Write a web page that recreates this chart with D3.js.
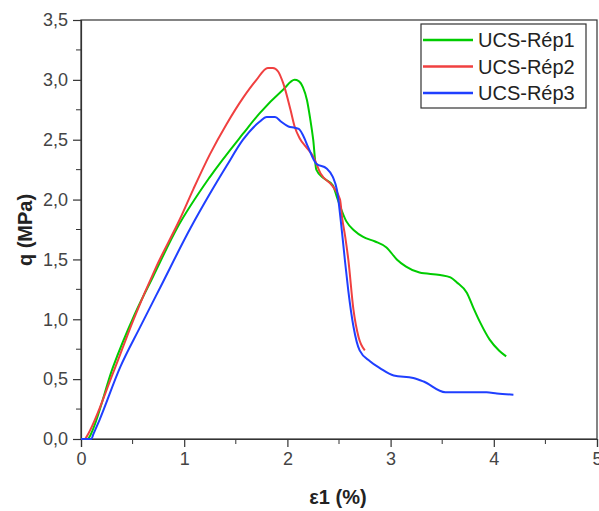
<!DOCTYPE html>
<html><head><meta charset="utf-8">
<script src="https://cdn.jsdelivr.net/npm/d3@7"></script>
<style>body{margin:0;background:#fff}svg{display:block}</style>
</head><body><svg id="c" width="599" height="511"></svg>
<script>
const seriesNames = ["UCS-Rép1","UCS-Rép2","UCS-Rép3"];
const seriesColors = ["#00cc00","#f04040","#1f3fff"];
const xTicks = [0,1,2,3,4,5];
const yTicks = [0,0.5,1,1.5,2,2.5,3,3.5];
const rep1 = [[0.07,0],[0.09,0.03],[0.31,0.60],[0.52,1.04],[0.70,1.36],[0.93,1.76],[1.25,2.19],[1.57,2.55],[1.73,2.72],[1.96,2.92],[2.07,3.0],[2.11,2.99],[2.15,2.94],[2.19,2.83],[2.22,2.68],[2.25,2.50],[2.28,2.25],[2.35,2.18],[2.44,2.12],[2.48,2.02],[2.57,1.82],[2.65,1.74],[2.73,1.69],[2.85,1.65],[2.96,1.60],[3.06,1.50],[3.15,1.44],[3.28,1.39],[3.48,1.37],[3.58,1.35],[3.64,1.31],[3.74,1.22],[3.80,1.10],[3.87,0.97],[3.96,0.83],[4.05,0.74],[4.12,0.69]];
const rep2 = [[0.04,0],[0.055,0.02],[0.31,0.55],[0.51,1.00],[0.73,1.44],[0.96,1.84],[1.09,2.09],[1.25,2.38],[1.41,2.63],[1.57,2.85],[1.70,3.0],[1.81,3.10],[1.86,3.10],[1.91,3.07],[1.96,2.97],[2.03,2.75],[2.07,2.61],[2.12,2.51],[2.18,2.44],[2.25,2.36],[2.32,2.22],[2.44,2.11],[2.51,2.0],[2.53,1.85],[2.56,1.69],[2.59,1.50],[2.64,1.08],[2.69,0.85],[2.75,0.74]];
const rep3 = [[0,0],[0.10,0],[0.12,0.04],[0.18,0.16],[0.38,0.60],[0.57,0.93],[0.77,1.27],[1.06,1.76],[1.25,2.05],[1.41,2.28],[1.57,2.50],[1.73,2.65],[1.80,2.69],[1.88,2.69],[1.94,2.65],[2.01,2.61],[2.07,2.60],[2.11,2.59],[2.15,2.54],[2.20,2.44],[2.28,2.30],[2.38,2.26],[2.44,2.19],[2.48,2.08],[2.53,1.72],[2.56,1.47],[2.59,1.24],[2.64,0.94],[2.70,0.74],[2.80,0.65],[2.90,0.59],[3.03,0.53],[3.22,0.51],[3.32,0.48],[3.53,0.39],[3.93,0.39],[4.03,0.38],[4.19,0.37]];
const seriesData = [rep1, rep2, rep3];

const svg = d3.select("#c");
const L=81,R=597,T=20,B=439;
const x = d3.scaleLinear().domain([0,5]).range([L,R]);
const y = d3.scaleLinear().domain([0,3.5]).range([B,T]);
const axCol="#333", txtCol="#444";

svg.append("rect").attr("x",L).attr("y",T).attr("width",R-L).attr("height",B-T)
  .attr("fill","none").attr("stroke",axCol).attr("stroke-width",1.2);

const minorX = d3.range(0.5,5,1), minorY = d3.range(0.25,3.5,0.5);
svg.append("g").selectAll("line").data(minorX).join("line")
  .attr("x1",d=>x(d)).attr("x2",d=>x(d)).attr("y1",B).attr("y2",B+5).attr("stroke",axCol);
svg.append("g").selectAll("line").data(minorY).join("line")
  .attr("y1",d=>y(d)).attr("y2",d=>y(d)).attr("x1",L).attr("x2",L-5).attr("stroke",axCol);

const xa = svg.append("g").attr("transform",`translate(0,${B})`)
  .call(d3.axisBottom(x).tickValues(xTicks).tickSize(8).tickPadding(5).tickFormat(d3.format("d")));
const ya = svg.append("g").attr("transform",`translate(${L},0)`)
  .call(d3.axisLeft(y).tickValues(yTicks).tickSize(8).tickPadding(5).tickFormat(d=>d.toFixed(1).replace(".",",")));
[xa,ya].forEach(a=>{
  a.select(".domain").attr("stroke",axCol).attr("stroke-width",1.2);
  a.selectAll(".tick line").attr("stroke",axCol).attr("stroke-width",1.2);
  a.selectAll("text").attr("fill",txtCol).style("font-family","Liberation Sans, Arial, sans-serif").style("font-size","18px");
});

const line = d3.line().x(d=>x(d[0])).y(d=>y(d[1])).curve(d3.curveMonotoneX);
seriesData.forEach((s,i)=>{
  svg.append("path").datum(s).attr("d",line).attr("fill","none")
    .attr("stroke",seriesColors[i]).attr("stroke-width",2).attr("stroke-linejoin","round");
});

svg.append("text").attr("x",338).attr("y",504).attr("text-anchor","middle")
  .style("font-family","Liberation Sans, Arial, sans-serif").style("font-weight","bold").style("font-size","20px")
  .attr("fill","#222").text("ε1 (%)");
svg.append("text").attr("transform","translate(32,230) rotate(-90)").attr("text-anchor","middle")
  .style("font-family","Liberation Sans, Arial, sans-serif").style("font-weight","bold").style("font-size","20px")
  .attr("fill","#222").text("q (MPa)");

const lg = svg.append("g");
lg.append("rect").attr("x",421).attr("y",24).attr("width",165).attr("height",84)
  .attr("fill","#fff").attr("stroke","#333").attr("stroke-width",1.2);
seriesNames.forEach((n,i)=>{
  const yy = 40 + i*26.5;
  lg.append("line").attr("x1",423).attr("x2",473).attr("y1",yy).attr("y2",yy)
    .attr("stroke",seriesColors[i]).attr("stroke-width",2.5);
  lg.append("text").attr("x",478).attr("y",yy+7)
    .style("font-family","Liberation Sans, Arial, sans-serif").style("font-size","20px")
    .attr("fill","#222").text(n);
});
</script></body></html>
